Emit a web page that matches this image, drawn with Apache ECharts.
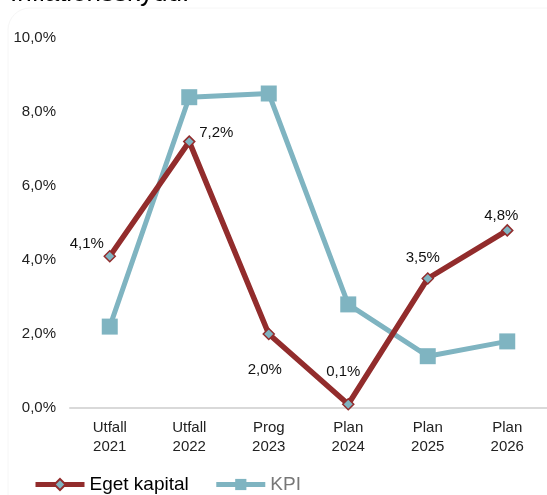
<!DOCTYPE html>
<html>
<head>
<meta charset="utf-8">
<script src="https://cdn.jsdelivr.net/npm/echarts@6/dist/echarts.min.js"></script>
<style>
html,body{margin:0;padding:0;background:#fff;}
#c{width:547px;height:495px;}
</style>
</head>
<body>
<div id="c"></div>
<script>
var categories = ['Utfall\n2021', 'Utfall\n2022', 'Prog\n2023', 'Plan\n2024', 'Plan\n2025', 'Plan\n2026'];
var egetKapital = [4.1, 7.2, 2.0, 0.1, 3.5, 4.8];
var kpi = [2.2, 8.4, 8.5, 2.8, 1.4, 1.8];
var yTicks = { min: 0, max: 10, interval: 2 };
var titleText = 'Inflationsskydd:';

// label placement (style, not data)
var labelOffsets = [[-23, -12], [27, -9], [-4, 36], [-5, -32], [-5, -21], [-6, -15]];

function pct(v) { return v.toFixed(1).replace('.', ',') + '%'; }

var RED = '#922C2C';
var BLUE = '#7FB4C1';
var FONT = '"Liberation Sans", Arial, sans-serif';

var chart = echarts.init(document.getElementById('c'), null, { renderer: 'canvas' });

var ekData = egetKapital.map(function (v, i) {
  return {
    value: v,
    label: { show: true, position: 'inside', offset: labelOffsets[i] }
  };
});

chart.setOption({
  animation: false,
  backgroundColor: '#fff',
  graphic: [
    {
      type: 'rect',
      shape: { x: 8, y: 8, width: 560, height: 560, r: 22 },
      style: { fill: 'none', stroke: '#f6f6f6', lineWidth: 1 },
      silent: true, z: -10
    },
    {
      type: 'text',
      x: 10, y: 7,
      style: { text: titleText, font: '26px ' + FONT, fill: '#000', verticalAlign: 'bottom' },
      silent: true
    }
  ],
  grid: { left: 70, right: 0, top: 38, bottom: 87, containLabel: false },
  legend: {
    left: 33, top: 475, padding: 0,
    itemWidth: 49, itemHeight: 14, itemGap: 25,
    lineStyle: { width: 5 },
    textStyle: { fontSize: 19, fontFamily: FONT, color: '#000' },
    data: [
      { name: 'Eget kapital', textStyle: { color: '#000' } },
      { name: 'KPI', textStyle: { color: '#777' } }
    ]
  },
  xAxis: {
    type: 'category',
    data: categories,
    boundaryGap: true,
    axisLine: { show: true, lineStyle: { color: '#d9d9d9', width: 2 } },
    axisTick: { show: false },
    axisLabel: { color: '#222', fontSize: 15, fontFamily: FONT, lineHeight: 19, margin: 10, interval: 0 }
  },
  yAxis: {
    type: 'value',
    min: yTicks.min, max: yTicks.max, interval: yTicks.interval,
    axisLine: { show: false },
    axisTick: { show: false },
    splitLine: { show: false },
    axisLabel: { color: '#222', fontSize: 15, fontFamily: FONT, margin: 14, formatter: function (v) { return pct(v); } }
  },
  series: [
    {
      name: 'Eget kapital',
      type: 'line',
      data: ekData,
      z: 5,
      symbol: 'diamond',
      symbolSize: 11,
      lineStyle: { color: RED, width: 5.5 },
      itemStyle: { color: BLUE, borderColor: RED, borderWidth: 1.5 },
      label: { color: '#111', fontSize: 15, fontFamily: FONT, formatter: function (p) { return pct(p.value); } },
      emphasis: { disabled: true }
    },
    {
      name: 'KPI',
      type: 'line',
      data: kpi,
      z: 3,
      symbol: 'rect',
      symbolSize: 16,
      lineStyle: { color: BLUE, width: 5 },
      itemStyle: { color: BLUE, borderWidth: 0 },
      emphasis: { disabled: true }
    }
  ]
});
</script>
</body>
</html>
